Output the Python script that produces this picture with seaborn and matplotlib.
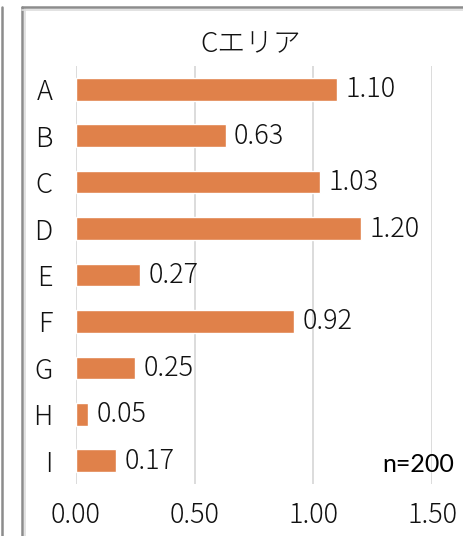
import matplotlib
matplotlib.use("Agg")
import matplotlib.pyplot as plt
from matplotlib.lines import Line2D
import seaborn as sns
import pandas as pd

categories = ["A", "B", "C", "D", "E", "F", "G", "H", "I"]
values = [1.10, 0.63, 1.03, 1.20, 0.27, 0.92, 0.25, 0.05, 0.17]
xticks = [0.0, 0.5, 1.0, 1.5]
xtick_labels = ["0.00", "0.50", "1.00", "1.50"]
title = "Cエリア"
note = "n=200"

sns.set_theme(style="white")
plt.rcParams['font.family'] = ['Noto Sans CJK JP', 'DejaVu Sans']
plt.rcParams['font.weight'] = 'light'

W, H = 463, 536
fig = plt.figure(figsize=(W / 100, H / 100), dpi=100)
ax = fig.add_axes([76 / W, 1 - 484 / H, (432 - 76) / W, (484 - 66) / H])

df = pd.DataFrame({"cat": categories, "val": values})
sns.barplot(data=df, x="val", y="cat", orient="h", color="#E0814A",
            saturation=1, width=0.49, ax=ax, zorder=3)

ax.set_xlim(0, 1.5)
ax.set_ylim(8.5, -0.5)
ax.set_xticks(xticks)
ax.set_xticklabels(xtick_labels)
ax.set_xlabel("")
ax.set_ylabel("")
for s in ax.spines.values():
    s.set_visible(False)
ax.grid(axis="x", color="#D9D9D9", linewidth=1.3, zorder=0)
ax.grid(axis="y", visible=False)
ax.tick_params(axis="both", length=0, labelsize=19.5, colors="#111111")
ax.tick_params(axis="x", pad=12)
ax.tick_params(axis="y", pad=17)

for i, v in enumerate(values):
    ax.annotate(f"{v:.2f}", xy=(v, i), xytext=(6, 0), textcoords="offset points",
                va="center", ha="left", fontsize=19.5, color="#111111")

fig.text(251 / W, 1 - 43 / H, title, ha="center", va="center",
         fontsize=20, color="#111111")
fig.text(454 / W, 1 - 465 / H, note, ha="right", va="center",
         fontsize=18, color="#000000", family=["Lato", "DejaVu Sans"],
         fontweight="normal")

# frame lines
def fl(xs, ys, c, lw):
    fig.add_artist(Line2D([x / W for x in xs], [1 - y / H for y in ys],
                          color=c, linewidth=lw, transform=fig.transFigure))

fl([2, 2], [7, 536], "#8C8C8C", 1.8)
fl([22, 22], [7, 536], "#8C8C8C", 1.8)
fl([24.5, 24.5], [9, 536], "#DDDDDD", 1.2)
fl([22, 463], [7, 7], "#8C8C8C", 1.8)
fl([22, 463], [9.5, 9.5], "#DDDDDD", 1.2)

fig.savefig("out.png", dpi=100)
